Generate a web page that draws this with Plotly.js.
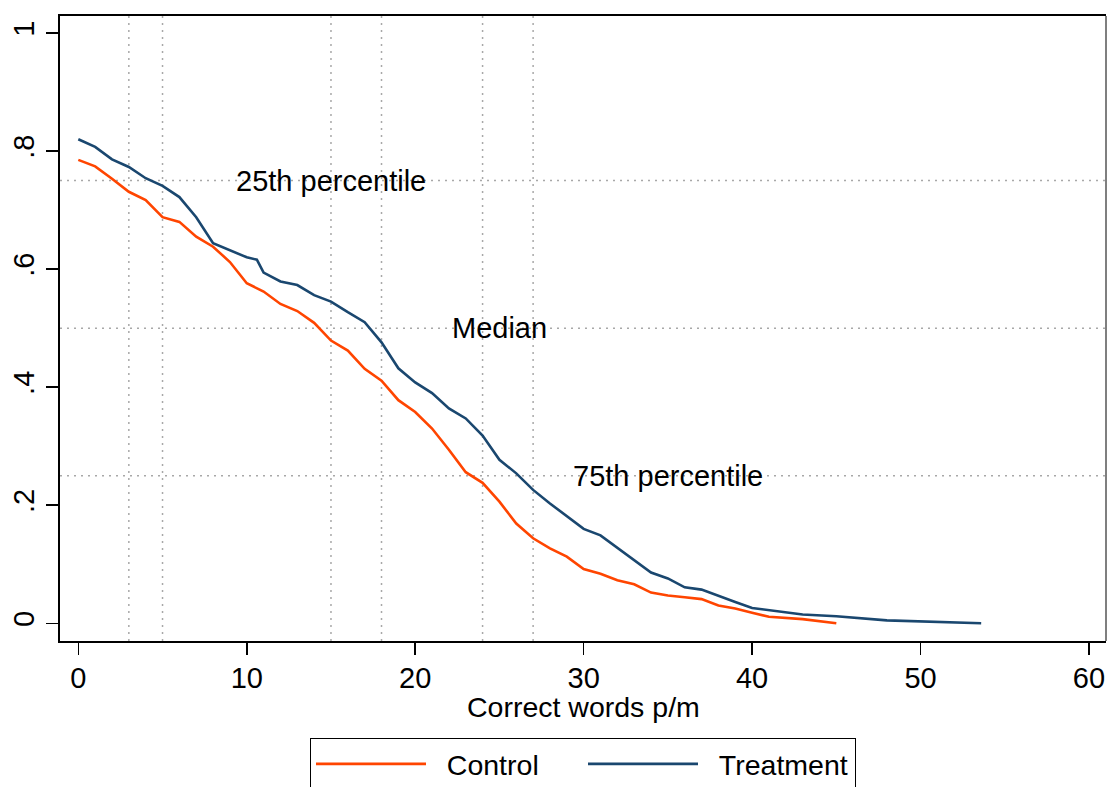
<!DOCTYPE html>
<html>
<head>
<meta charset="utf-8">
<script src="https://cdn.plot.ly/plotly-3.0.1.min.js"></script>
<style>html,body{margin:0;padding:0;background:#fff;}#chart{width:1107px;height:787px;}</style>
</head>
<body>
<div id="chart"></div>
<script>
var controlX = [0,1,2,3,4,5,6,7,8,9,10,11,12,13,14,15,16,17,18,19,20,21,22,23,24,25,26,27,28,29,30,31,32,33,34,35,36,37,38,39,40,41,43,45];
var controlY = [0.785,0.774,0.753,0.731,0.717,0.688,0.680,0.655,0.638,0.612,0.576,0.562,0.541,0.529,0.509,0.479,0.462,0.431,0.411,0.378,0.358,0.330,0.294,0.256,0.238,0.206,0.169,0.144,0.127,0.113,0.092,0.084,0.073,0.066,0.052,0.047,0.044,0.041,0.030,0.025,0.018,0.011,0.007,0.0];
var treatX = [0,1,2,3,4,5,6,7,8,9,10,10.6,11,12,13,14,15,16,17,18,19,20,21,22,23,24,25,26,27,28,29,30,31,32,33,34,35,36,37,38,39,40,41,43,45,48,53.6];
var treatY = [0.820,0.807,0.786,0.773,0.754,0.741,0.722,0.688,0.644,0.632,0.620,0.616,0.594,0.579,0.573,0.556,0.545,0.527,0.510,0.476,0.432,0.408,0.390,0.364,0.347,0.318,0.277,0.254,0.226,0.203,0.182,0.160,0.149,0.128,0.107,0.086,0.076,0.061,0.057,0.046,0.036,0.026,0.022,0.015,0.012,0.005,0.0];
var seriesNames = ['Control','Treatment'];
var xTitle = 'Correct words p/m';
var xTickVals = [0,10,20,30,40,50,60];
var xTickText = ['0','10','20','30','40','50','60'];
var yTickVals = [0,0.2,0.4,0.6,0.8,1];
var yTickText = ['0','.2','.4','.6','.8','1'];
var vLines = [3,5,15,18,24,27];
var hLines = [0.25,0.5,0.75];
var labelText = ['25th percentile','Median','75th percentile'];
var labelX = [15,25,35];
var labelY = [0.75,0.5,0.25];

var FONT = '"Liberation Sans", Arial, Helvetica, sans-serif';
var PAD = '\u00a0\u00a0';
var traces = [
  {x: controlX, y: controlY, type: 'scatter', mode: 'lines', name: PAD + seriesNames[0],
   line: {color: '#ff4500', width: 2.6}},
  {x: treatX, y: treatY, type: 'scatter', mode: 'lines', name: PAD + seriesNames[1],
   line: {color: '#1a476f', width: 2.6}}
];
var shapes = [];
vLines.forEach(function(v){
  shapes.push({type:'line', xref:'x', yref:'paper', x0:v, x1:v, y0:0, y1:1,
    line:{color:'#a8a8a8', width:1.5, dash:'2px,5px'}, layer:'below'});
});
hLines.forEach(function(v){
  shapes.push({type:'line', xref:'paper', yref:'y', x0:0, x1:1, y0:v, y1:v,
    line:{color:'#a8a8a8', width:1.5, dash:'2px,5px'}, layer:'below'});
});
shapes.push({type:'line', xref:'paper', yref:'paper', x0:1, x1:1, y0:0, y1:1,
  line:{color:'#555', width:1.5}});
var annotations = labelText.map(function(t,i){
  return {x:labelX[i], y:labelY[i], xref:'x', yref:'y', text:t, showarrow:false,
    xanchor:'center', yanchor:'middle', font:{family:FONT, size:29, color:'#000'}};
});
annotations.push({x:0.5, y:-0.1056, xref:'paper', yref:'paper', text:xTitle, showarrow:false,
  xanchor:'center', yanchor:'middle', font:{family:FONT, size:28.5, color:'#000'}});
var layout = {
  width: 1107, height: 787,
  margin: {l:60, r:1, t:16, b:146, pad:0, autoexpand:false},
  paper_bgcolor: '#fff', plot_bgcolor: '#fff',
  font: {family: FONT, size: 28.5, color: '#000'},
  showlegend: true,
  xaxis: {range:[-1.087, 61.01], showgrid:false, zeroline:false, automargin:false,
    tickmode:'array', tickvals:xTickVals, ticktext:xTickText,
    ticks:'outside', ticklen:12, tickwidth:1.5, tickcolor:'#000', ticklabelstandoff:-2,
    showline:true, linewidth:2, linecolor:'#000', mirror:true,
    tickfont:{family:FONT, size:29, color:'#000'}},
  yaxis: {range:[-0.030, 1.0288], showgrid:false, zeroline:false, automargin:false,
    tickmode:'array', tickvals:yTickVals, ticktext:yTickText, tickangle:-90,
    ticks:'outside', ticklen:12, tickwidth:1.5, tickcolor:'#000',
    showline:true, linewidth:2, linecolor:'#000', mirror:false,
    tickfont:{family:FONT, size:29, color:'#000'}},
  legend: {orientation:'h', x:0.5, xanchor:'center', y:-0.155, yanchor:'top',
    bordercolor:'#000', borderwidth:1, bgcolor:'#fff',
    font:{family:FONT, size:28.5, color:'#000'}, itemwidth:110,
    entrywidth:147, entrywidthmode:'pixels'},
  shapes: shapes,
  annotations: annotations
};
Plotly.newPlot('chart', traces, layout, {displayModeBar:false, staticPlot:true});
</script>
</body>
</html>
